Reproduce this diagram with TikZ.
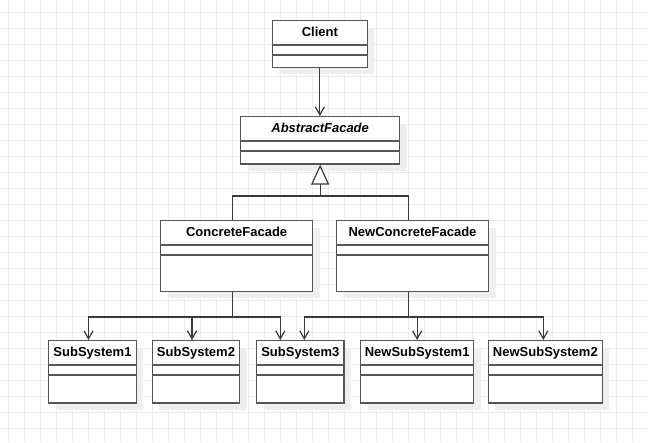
\documentclass[tikz,border=0pt]{standalone}
\usepackage{fontspec}
\setmainfont{Liberation Sans}
\usetikzlibrary{arrows.meta, shadows}
\definecolor{gridgray}{HTML}{EBEBEB}
\definecolor{boxline}{HTML}{555555}
\definecolor{shadowgray}{HTML}{EFEFEF}
\definecolor{connline}{HTML}{3A3A3A}

\begin{document}
\begin{tikzpicture}[x=1pt, y=-1pt, >={Straight Barb[length=8pt,width=9pt]}, line width=1.3pt,
  clase/.style={draw=boxline, fill=white, inner sep=0pt, anchor=north west,
    drop shadow={shadow xshift=7pt, shadow yshift=-7pt, opacity=1, fill=shadowgray}},
  titulo/.style={anchor=base, inner sep=0pt, font=\fontsize{13}{15}\selectfont\bfseries},
  sep/.style={draw=boxline},
  conn/.style={draw=connline, line width=1.2pt}]
  % fondo con cuadricula
  \useasboundingbox (0,0) rectangle (648,442);
  \fill[white] (0,0) rectangle (648,442);
  \foreach \x in {8,24,...,647} \draw[gridgray, line width=1pt] (\x,0) -- (\x,442);
  \foreach \y in {12,28,...,441} \draw[gridgray, line width=1pt] (0,\y) -- (648,\y);
  % clases: nombre/x/y/ancho/alto/titulo
  \foreach \n/\x/\y/\w/\h/\t in {
    cl/271.7/20/95/46.7/Client,
    af/240/116/159/47.3/{\itshape AbstractFacade},
    cf/160/220/152/70.7/ConcreteFacade,
    ncf/335.7/220/152.3/70.7/NewConcreteFacade,
    s1/48/340/87.7/62.3/SubSystem1,
    s2/151.7/340/87.3/62.3/SubSystem2,
    s3/256/340/87.3/62.3/SubSystem3,
    ns1/360/340/113/62.3/NewSubSystem1,
    ns2/487.7/340/114/62.3/NewSubSystem2}{
    \node[clase, minimum width=\w pt, minimum height=\h pt] (\n) at (\x,\y) {};
    \node[titulo] (\n-t) at ([yshift=-16.7pt]\n.north) {\t};
    \draw[sep] ([yshift=-25pt]\n.north west) -- ([yshift=-25pt]\n.north east);
    \draw[sep] ([yshift=-35pt]\n.north west) -- ([yshift=-35pt]\n.north east);
  }
  % asociacion cliente -> fachada
  \draw[conn,->] (cl.south) -- (cl.south |- af.north);
  % herencia
  \draw[conn] ([xshift=-4pt]cf.north) -- ++(0,-24) coordinate (gen) -| ([xshift=-4pt]ncf.north);
  \draw[conn, -{Triangle[length=20pt,width=18pt,fill=white]}] (gen -| af.south) -- (af.south);
  % dependencias hacia los subsistemas
  \draw[conn] ([xshift=-4pt]cf.south) -- ++(0,25) coordinate (cfbus);
  \foreach \s/\d in {s1/-4, s2/-4, s3/-20} \draw[conn,->] (cfbus) -| ([xshift=\d pt]\s.north);
  \draw[conn] ([xshift=-4pt]ncf.south) -- ++(0,25) coordinate (ncfbus);
  \foreach \s/\d in {s3/4, ns1/0, ns2/-2} \draw[conn,->] (ncfbus) -| ([xshift=\d pt]\s.north);
\end{tikzpicture}
\end{document}
